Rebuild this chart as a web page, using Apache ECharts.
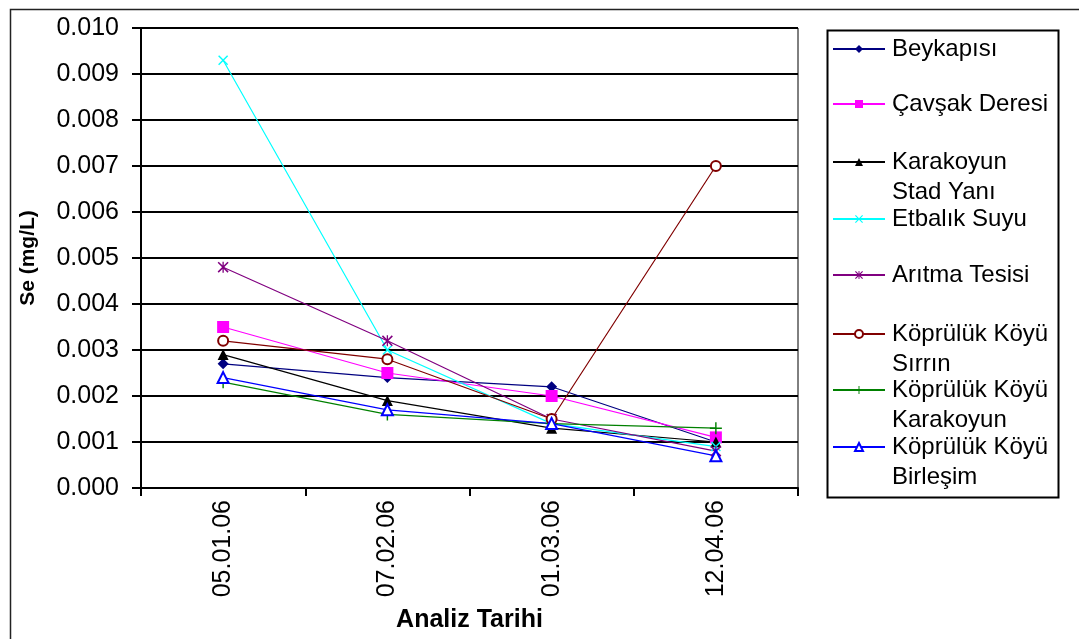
<!DOCTYPE html>
<html>
<head>
<meta charset="utf-8">
<script src="https://cdn.jsdelivr.net/npm/echarts@6/dist/echarts.min.js"></script>
<style>
html,body{margin:0;padding:0;background:#fff;}
#chart{width:1079px;height:639px;}
</style>
</head>
<body>
<div id="chart"></div>
<script>
// ---- data ----
const categories = ["05.01.06", "07.02.06", "01.03.06", "12.04.06"];
const seriesNames = ["Beykapısı", "Çavşak Deresi", "Karakoyun Stad Yanı", "Etbalık Suyu", "Arıtma Tesisi", "Köprülük Köyü Sırrın", "Köprülük Köyü Karakoyun", "Köprülük Köyü Birleşim"];
const legendLabels = ["Beykapısı", "Çavşak Deresi", "Karakoyun\nStad Yanı", "Etbalık Suyu", "Arıtma Tesisi", "Köprülük Köyü\nSırrın", "Köprülük Köyü\nKarakoyun", "Köprülük Köyü\nBirleşim"];
const beykapisi = [0.0027, 0.0024, 0.0022, 0.0010];
const cavsakDeresi = [0.0035, 0.0025, 0.0020, 0.0011];
const karakoyunStad = [0.0029, 0.0019, 0.0013, 0.0010];
const etbalikSuyu = [0.0093, 0.0030, 0.0014, 0.0009];
const aritmaTesisi = [0.0048, 0.0032, 0.0015, 0.0008];
const koprulukSirrin = [0.0032, 0.0028, 0.0015, 0.0070];
const koprulukKarakoyun = [0.0023, 0.0016, 0.0014, 0.0013];
const koprulukBirlesim = [0.0024, 0.0017, 0.0014, 0.0007];
const yTickLabels = ["0.000","0.001","0.002","0.003","0.004","0.005","0.006","0.007","0.008","0.009","0.010"];

// ---- styles ----
const values = [beykapisi, cavsakDeresi, karakoyunStad, etbalikSuyu, aritmaTesisi, koprulukSirrin, koprulukKarakoyun, koprulukBirlesim];
const colors = ["#000080", "#FF00FF", "#000000", "#00FFFF", "#800080", "#800000", "#008000", "#0000FF"];
const X_PATH = 'path://M0,1L1,0L5,4L9,0L10,1L6,5L10,9L9,10L5,6L1,10L0,9L4,5Z';
const PLUS_PATH = 'path://M4.4,0H5.6V10H4.4Z M0,4.4H10V5.6H0Z';
const STAR_PATH = 'path://M4.4,0H5.6V10H4.4Z M0,1L1,0L10,9L9,10Z M9,0L10,1L1,10L0,9Z';
const symbols = ["diamond", "rect", "triangle", X_PATH, STAR_PATH, "emptyCircle", PLUS_PATH, "emptyTriangle"];
const symbolSizes = [11, 12, 11, 10, 11, 10, 12, 11];
const legendCenters = [49, 104, 162, 219, 275, 334, 390, 447];
const FONT = "'Liberation Sans', Arial, sans-serif";

const series = seriesNames.map((n, i) => ({
  name: n,
  type: 'line',
  data: values[i],
  symbol: symbols[i],
  symbolSize: symbolSizes[i],
  showAllSymbol: true,
  lineStyle: { color: colors[i], width: 1.2 },
  itemStyle: { color: colors[i], borderColor: colors[i], borderWidth: (symbols[i] === 'emptyCircle' || symbols[i] === 'emptyTriangle') ? 1.5 : 0 },
  emphasis: { disabled: true },
  animation: false
}));

const legends = seriesNames.map((n, i) => {
  const wrapped = legendLabels[i].indexOf('\n') >= 0;
  return {
    data: [n],
    left: 832,
    top: legendCenters[i] - (wrapped ? 45 : 15),
    padding: 0,
    itemWidth: 52,
    itemHeight: 10,
    itemGap: 0,
    selectedMode: false,
    formatter: () => wrapped ? '\n' + legendLabels[i] : legendLabels[i],
    textStyle: { fontFamily: FONT, fontSize: 24, color: '#000', lineHeight: 30, padding: [0, 0, 0, 2] }
  };
});

const chart = echarts.init(document.getElementById('chart'), null, { renderer: 'canvas' });
chart.setOption({
  backgroundColor: '#fff',
  animation: false,
  grid: { left: 141, right: 281, top: 28, bottom: 151, containLabel: false, outerBoundsMode: 'none', show: true, borderColor: '#000', borderWidth: 1, backgroundColor: 'transparent' },
  xAxis: {
    type: 'category',
    data: categories,
    boundaryGap: true,
    name: 'Analiz Tarihi',
    nameLocation: 'middle',
    nameGap: 120,
    nameTextStyle: { fontFamily: FONT, fontSize: 25, fontWeight: 'bold', color: '#000' },
    axisLine: { lineStyle: { color: '#000', width: 2 } },
    axisTick: { show: true, alignWithLabel: false, length: 8, lineStyle: { color: '#000', width: 2 } },
    axisLabel: { rotate: 90, fontFamily: FONT, fontSize: 25, color: '#000', margin: 12 },
    splitLine: { show: false }
  },
  yAxis: {
    type: 'value',
    min: 0, max: 0.010, interval: 0.001,
    name: 'Se (mg/L)',
    nameLocation: 'middle',
    nameGap: 102,
    nameTextStyle: { fontFamily: FONT, fontSize: 21, fontWeight: 'bold', color: '#000' },
    axisLine: { show: true, lineStyle: { color: '#000', width: 2 } },
    axisTick: { show: true, length: 9, lineStyle: { color: '#000', width: 2 } },
    axisLabel: { fontFamily: FONT, fontSize: 25, color: '#000', margin: 22, formatter: (v) => yTickLabels[Math.round(v * 1000)] },
    splitLine: { show: true, lineStyle: { color: '#000', width: 2 } }
  },
  legend: legends,
  graphic: [
    { type: 'rect', left: 8, top: 7, shape: { x: 0, y: 0, width: 1100, height: 650 }, style: { fill: 'none', stroke: '#222', lineWidth: 1.5 }, silent: true, z: -1 },
    { type: 'rect', left: 825, top: 28, shape: { x: 0, y: 0, width: 231, height: 467 }, style: { fill: 'none', stroke: '#000', lineWidth: 2 }, silent: true }
  ],
  series: series
});
</script>
</body>
</html>
